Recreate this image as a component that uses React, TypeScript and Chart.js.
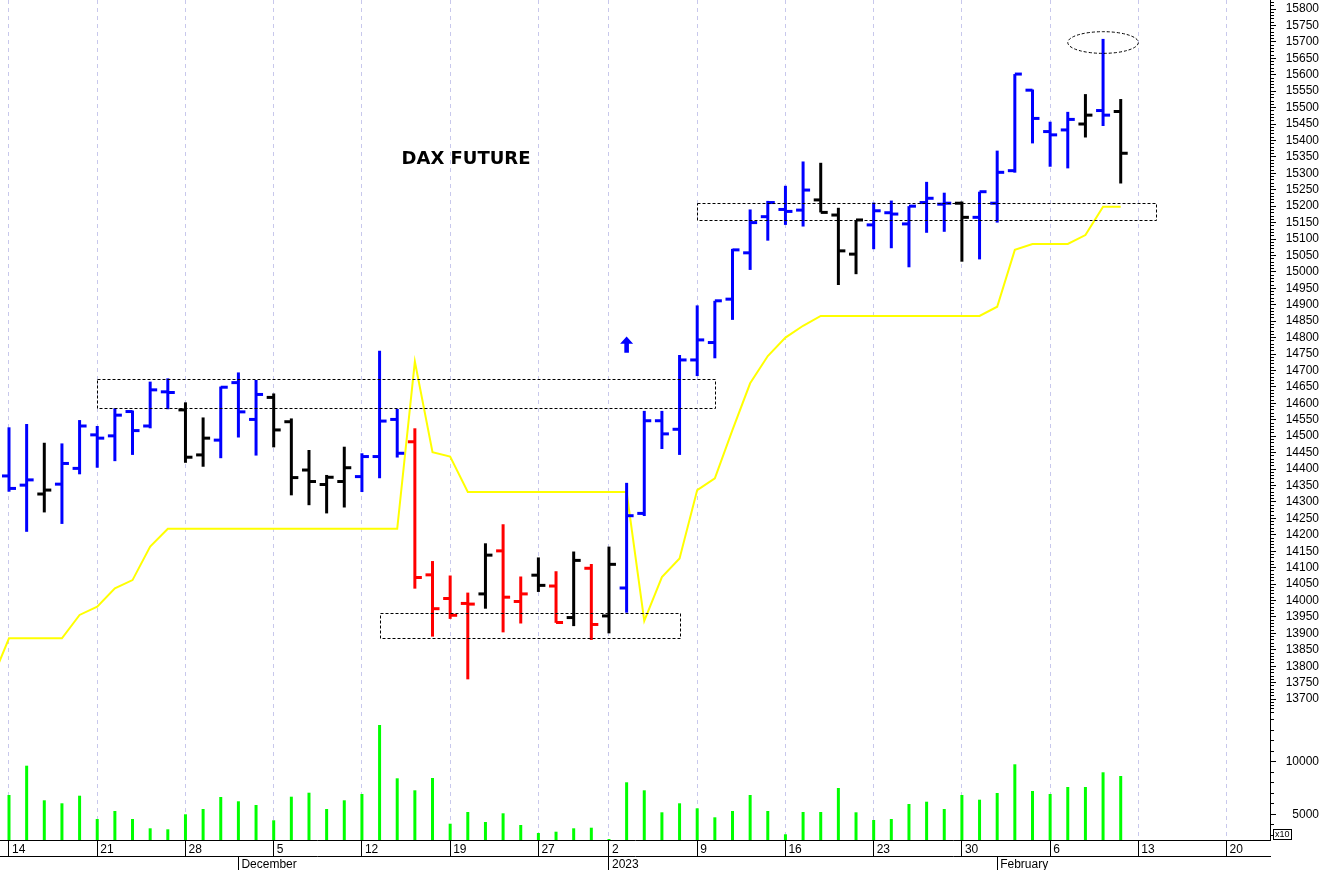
import React, { useEffect, useRef } from 'react';
import { Chart, registerables } from 'chart.js';

Chart.register(...registerables);

const FONT = "'Liberation Sans', Arial, sans-serif";

// Trading days (index 0 = 11 Nov 2022, mostly off-screen at the left edge)
const dates = [
  '2022-11-11',
  '2022-11-14', '2022-11-15', '2022-11-16', '2022-11-17', '2022-11-18',
  '2022-11-21', '2022-11-22', '2022-11-23', '2022-11-24', '2022-11-25',
  '2022-11-28', '2022-11-29', '2022-11-30', '2022-12-01', '2022-12-02',
  '2022-12-05', '2022-12-06', '2022-12-07', '2022-12-08', '2022-12-09',
  '2022-12-12', '2022-12-13', '2022-12-14', '2022-12-15', '2022-12-16',
  '2022-12-19', '2022-12-20', '2022-12-21', '2022-12-22', '2022-12-23',
  '2022-12-27', '2022-12-28', '2022-12-29', '2022-12-30',
  '2023-01-02', '2023-01-03', '2023-01-04', '2023-01-05', '2023-01-06',
  '2023-01-09', '2023-01-10', '2023-01-11', '2023-01-12', '2023-01-13',
  '2023-01-16', '2023-01-17', '2023-01-18', '2023-01-19', '2023-01-20',
  '2023-01-23', '2023-01-24', '2023-01-25', '2023-01-26', '2023-01-27',
  '2023-01-30', '2023-01-31', '2023-02-01', '2023-02-02', '2023-02-03',
  '2023-02-06', '2023-02-07', '2023-02-08', '2023-02-09', '2023-02-10',
];

const openPrices = [null,
  14379, 14351, 14324, 14354, 14402, 14504, 14501, 14575, 14531, 14635,
  14580, 14443, 14488, 14663, 14551, 14618, 14544, 14397, 14353, 14362,
  14377, 14438, 14551, 14483, 14078, 14006, 13991, 14020, 14151, 13997,
  14077, 14044, 13948, 14098, 13953, 14038, 14265, 14547, 14521, 14732,
  14785, 14917, 15058, 15168, 15190, 15188, 15219, 15173, 15054, 15143,
  15180, 15146, 15211, 15206, 15209, 15166, 15209, 15308, 15553, 15427,
  15432, 15450, 15491, 15488];

const highPrices = [null,
  14527, 14537, 14480, 14478, 14549, 14531, 14585, 14578, 14666, 14676,
  14603, 14557, 14651, 14694, 14671, 14630, 14554, 14458, 14382, 14468,
  14448, 14760, 14583, 14524, 14120, 14076, 14024, 14174, 14232, 14073,
  14131, 14089, 14149, 14111, 14164, 14358, 14577, 14577, 14747, 14898,
  14912, 15070, 15190, 15216, 15262, 15336, 15332, 15195, 15158, 15211,
  15217, 15200, 15274, 15241, 15214, 15244, 15369, 15602, 15555, 15457,
  15487, 15541, 15709, 15526];

const lowPrices = [null,
  14331, 14209, 14268, 14233, 14384, 14404, 14424, 14443, 14524, 14582,
  14419, 14407, 14433, 14496, 14441, 14466, 14320, 14290, 14265, 14283,
  14330, 14372, 14435, 14036, 13890, 13944, 13760, 13975, 13903, 13930,
  14026, 13932, 13922, 13880, 13900, 13963, 14257, 14461, 14443, 14683,
  14737, 14854, 15006, 15095, 15143, 15138, 15181, 14960, 14993, 15069,
  15072, 15014, 15119, 15122, 15031, 15038, 15150, 15302, 15391, 15320,
  15315, 15409, 15444, 15269];

const closePrices = [null,
  14341, 14367, 14336, 14417, 14531, 14494, 14564, 14517, 14641, 14633,
  14436, 14494, 14649, 14574, 14627, 14519, 14374, 14362, 14375, 14404,
  14438, 14546, 14448, 14070, 13975, 13955, 13989, 14138, 14010, 14020,
  14046, 13933, 14122, 13927, 14110, 14258, 14547, 14507, 14732, 14793,
  14912, 15067, 15150, 15211, 15184, 15249, 15181, 15064, 15158, 15186,
  15176, 15200, 15224, 15209, 15166, 15244, 15303, 15602, 15467, 15417,
  15464, 15477, 15477, 15361];

// B = blue, K = black, R = red
const barColorCodes = ['K',
  'B', 'B', 'K', 'B', 'B', 'B', 'B', 'B', 'B', 'B',
  'K', 'K', 'B', 'B', 'B', 'K', 'K', 'K', 'K', 'K',
  'B', 'B', 'B', 'R', 'R', 'R', 'R', 'K', 'R', 'R',
  'K', 'R', 'K', 'R', 'K', 'B', 'B', 'B', 'B', 'B',
  'B', 'B', 'B', 'B', 'B', 'B', 'K', 'K', 'K', 'B',
  'B', 'B', 'B', 'B', 'K', 'B', 'B', 'B', 'B', 'B',
  'B', 'K', 'B', 'K'];

const volumes = [null,
  6835, 9620, 6331, 6046, 6768, 4553, 5314, 4553, 3669, 3574,
  5000, 5504, 6645, 6236, 5884, 4430, 6673, 7053, 5504, 6331,
  6930, 13489, 8422, 7281, 8451, 4106, 5219, 4268, 5095, 3983,
  3222, 3346, 3669, 3726, 2650, 8042, 7281, 5190, 6046, 5570,
  4715, 5314, 6835, 5314, 3100, 5219, 5219, 7500, 5190, 4458,
  4553, 5979, 6198, 5504, 6835, 6388, 7025, 9753, 7215, 6930,
  7595, 7595, 8993, 8641];

const stopLine = [13754,
  13885, 13885, 13885, 13885, 13956, 13981, 14037, 14062, 14164, 14218,
  14218, 14218, 14218, 14218, 14218, 14218, 14218, 14218, 14218, 14218,
  14218, 14218, 14218, 14727, 14451, 14438, 14330, 14330, 14330, 14330,
  14330, 14330, 14330, 14330, 14330, 14330, 13938, 14071, 14128, 14336,
  14372, 14519, 14661, 14744, 14800, 14836, 14866, 14866, 14866, 14866,
  14866, 14866, 14866, 14866, 14866, 14866, 14894, 15067, 15085, 15085,
  15085, 15112, 15198, 15198];

// Axis ticks (positions are trading-day indices)
const weekTickPos = [1, 6, 11, 16, 21, 26, 31, 35, 40, 45, 50, 55, 60, 65, 70];
const weekTickLabels = ['14', '21', '28', '5', '12', '19', '27', '2', '9', '16', '23', '30', '6', '13', '20'];
const monthTickPos = [14, 35, 57];
const monthTickLabels = ['December', '2023', 'February'];
const xRange = [0.49, 72.46];
const priceRange = [13651.5, 15827.4];
const volumeRange = [2557, 14439];
const priceTickStep = 10;
const priceLabelStep = 50;
const volumeTickStep = 1000;
const volumeLabels = [5000, 10000];

// Annotations (data units)
const zoneStart = [6, 22, 40];
const zoneEnd = [41, 39, 66];
const zoneLow = [14585, 13885, 15157];
const zoneHigh = [14673, 13963, 15209];
const ellipseX = [61, 65];
const ellipseY = [15665, 15731];
const arrowX = 36;
const arrowY = [14803, 14781, 14754];
const titleText = 'DAX FUTURE';
const titleX = 26.9;
const titleY = 15342;

const colorMap: Record<string, string> = { B: '#0000ff', K: '#000000', R: '#ff0000' };

function rangeTicks(min: number, max: number, step: number) {
  const out: number[] = [];
  for (let v = Math.ceil(min / step) * step; v <= max; v += step) out.push(v);
  return out;
}

function noPadding(s: any) {
  s.paddingLeft = 0;
  s.paddingRight = 0;
  s.paddingTop = 0;
  s.paddingBottom = 0;
}

const overlayPlugin = {
  id: 'overlay',
  afterDatasetsDraw(chart: any) {
    const { ctx, chartArea: a, scales } = chart;
    const xs = scales.x;
    const ys = scales.y;
    ctx.save();
    ctx.beginPath();
    ctx.rect(a.left, a.top, a.right - a.left, a.bottom - a.top);
    ctx.clip();
    ctx.strokeStyle = '#000';
    ctx.lineWidth = 1;
    ctx.setLineDash([3, 2]);
    for (let k = 0; k < zoneStart.length; k++) {
      const x0 = Math.round(xs.getPixelForValue(zoneStart[k])) + 0.5;
      const x1 = Math.round(xs.getPixelForValue(zoneEnd[k])) + 0.5;
      const y0 = Math.round(ys.getPixelForValue(zoneHigh[k])) + 0.5;
      const y1 = Math.round(ys.getPixelForValue(zoneLow[k])) + 0.5;
      ctx.strokeRect(x0, y0, x1 - x0, y1 - y0);
    }
    const ex0 = xs.getPixelForValue(ellipseX[0]);
    const ex1 = xs.getPixelForValue(ellipseX[1]);
    const ey0 = ys.getPixelForValue(ellipseY[1]);
    const ey1 = ys.getPixelForValue(ellipseY[0]);
    ctx.beginPath();
    ctx.ellipse((ex0 + ex1) / 2, (ey0 + ey1) / 2, (ex1 - ex0) / 2, (ey1 - ey0) / 2, 0, 0, Math.PI * 2);
    ctx.stroke();
    ctx.setLineDash([]);
    // arrow
    const ax = xs.getPixelForValue(arrowX);
    const tipY = ys.getPixelForValue(arrowY[0]);
    const neckY = ys.getPixelForValue(arrowY[1]);
    const tailY = ys.getPixelForValue(arrowY[2]);
    ctx.fillStyle = '#0000ff';
    ctx.beginPath();
    ctx.moveTo(ax, tipY);
    ctx.lineTo(ax + 6.5, neckY);
    ctx.lineTo(ax + 2.3, neckY);
    ctx.lineTo(ax + 2.3, tailY);
    ctx.lineTo(ax - 2.3, tailY);
    ctx.lineTo(ax - 2.3, neckY);
    ctx.lineTo(ax - 6.5, neckY);
    ctx.closePath();
    ctx.fill();
    // title
    ctx.fillStyle = '#000';
    ctx.font = "bold 18px 'DejaVu Sans'";
    ctx.textAlign = 'center';
    ctx.textBaseline = 'middle';
    ctx.fillText(titleText, xs.getPixelForValue(titleX), ys.getPixelForValue(titleY));
    ctx.restore();
    // x10 box on the volume axis
    const v = scales.yv;
    ctx.save();
    ctx.strokeStyle = '#000';
    ctx.lineWidth = 1;
    ctx.strokeRect(Math.round(v.left) + 3.5, Math.round(v.bottom) - 10.5, 18, 10);
    ctx.fillStyle = '#000';
    ctx.font = "9px 'Liberation Sans'";
    ctx.textAlign = 'left';
    ctx.textBaseline = 'middle';
    ctx.fillText('x10', Math.round(v.left) + 5, Math.round(v.bottom) - 5);
    ctx.restore();
  },
};

export default function App() {
  const ref = useRef<HTMLCanvasElement>(null);

  useEffect(() => {
    const idx = dates.map((_, i) => i);
    const barIdx = idx.filter((i) => highPrices[i] != null);
    const colorsFor = (list: number[]) => list.map((i) => colorMap[barColorCodes[i]]);

    const priceTicks = rangeTicks(priceRange[0], priceRange[1], priceTickStep);
    const volTicks = rangeTicks(volumeRange[0], volumeRange[1], volumeTickStep);

    const minorDash = (c: any) => {
      const t = c && c.tick;
      if (!t) return [];
      const v = t.value;
      const major = c.scale && c.scale.id === 'yv' ? volumeLabels.includes(v) : v % priceLabelStep === 0;
      return major ? [] : [3, 30];
    };

    const chart = new Chart(ref.current as HTMLCanvasElement, {
      type: 'bar',
      data: {
        datasets: [
          {
            type: 'line',
            data: idx.map((i) => ({ x: i, y: stopLine[i] })),
            borderColor: '#ffff00',
            borderWidth: 2,
            pointRadius: 0,
            tension: 0,
            xAxisID: 'x',
            yAxisID: 'y',
            order: 10,
          } as any,
          {
            type: 'bar',
            data: barIdx.filter((i) => volumes[i] != null).map((i) => ({ x: i, y: volumes[i] })),
            backgroundColor: '#00ff00',
            borderWidth: 0,
            grouped: false,
            maxBarThickness: 3,
            xAxisID: 'x',
            yAxisID: 'yv',
            order: 9,
          } as any,
          {
            type: 'bar',
            data: barIdx.map((i) => ({ x: i, y: [lowPrices[i], highPrices[i]] })),
            backgroundColor: colorsFor(barIdx),
            borderWidth: 0,
            grouped: false,
            maxBarThickness: 3,
            xAxisID: 'x',
            yAxisID: 'y',
            order: 5,
          } as any,
          {
            type: 'scatter',
            data: barIdx.map((i) => ({ x: i, y: openPrices[i] })),
            pointStyle: 'dash',
            pointRadius: 7,
            pointBorderWidth: 3,
            pointRotation: 180,
            pointBorderColor: colorsFor(barIdx),
            pointBackgroundColor: 'rgba(0,0,0,0)',
            xAxisID: 'x',
            yAxisID: 'y',
            order: 2,
          } as any,
          {
            type: 'scatter',
            data: barIdx.map((i) => ({ x: i, y: closePrices[i] })),
            pointStyle: 'dash',
            pointRadius: 7,
            pointBorderWidth: 3,
            pointRotation: 0,
            pointBorderColor: colorsFor(barIdx),
            pointBackgroundColor: 'rgba(0,0,0,0)',
            xAxisID: 'x',
            yAxisID: 'y',
            order: 1,
          } as any,
        ],
      },
      options: {
        animation: false,
        responsive: true,
        maintainAspectRatio: false,
        events: [],
        layout: { padding: 0, autoPadding: false },
        plugins: {
          legend: { display: false },
          tooltip: { enabled: false },
          title: { display: false },
        },
        scales: {
          x: {
            type: 'linear',
            position: 'bottom',
            min: xRange[0],
            max: xRange[1],
            offset: false,
            afterBuildTicks: (s: any) => {
              s.ticks = weekTickPos.map((v) => ({ value: v }));
            },
            afterFit: (s: any) => {
              s.height = 16;
              noPadding(s);
            },
            ticks: {
              autoSkip: false,
              maxRotation: 0,
              minRotation: 0,
              align: 'start',
              labelOffset: 3,
              padding: -14,
              color: '#000',
              font: { family: FONT, size: 12 },
              callback: (v: any) => {
                const k = weekTickPos.indexOf(Number(v));
                return k >= 0 ? weekTickLabels[k] : '';
              },
            },
            grid: {
              offset: false,
              color: '#c8c8ec',
              lineWidth: 1,
              drawTicks: true,
              tickLength: 16,
              tickColor: '#000',
              tickBorderDash: [],
            },
            border: { display: true, color: '#000', dash: [4, 4] },
          },
          x2: {
            type: 'linear',
            position: 'bottom',
            min: xRange[0],
            max: xRange[1],
            offset: false,
            afterBuildTicks: (s: any) => {
              s.ticks = monthTickPos.map((v) => ({ value: v }));
            },
            afterFit: (s: any) => {
              s.height = 14;
              noPadding(s);
            },
            ticks: {
              autoSkip: false,
              maxRotation: 0,
              minRotation: 0,
              align: 'start',
              labelOffset: 3,
              padding: -13,
              color: '#000',
              font: { family: FONT, size: 12 },
              callback: (v: any) => {
                const k = monthTickPos.indexOf(Number(v));
                return k >= 0 ? monthTickLabels[k] : '';
              },
            },
            grid: {
              offset: false,
              drawOnChartArea: false,
              drawTicks: true,
              tickLength: 14,
              tickColor: '#000',
            },
            border: { display: true, color: '#000' },
          },
          y: {
            type: 'linear',
            position: 'right',
            stack: 'right',
            stackWeight: 715,
            min: priceRange[0],
            max: priceRange[1],
            afterBuildTicks: (s: any) => {
              s.ticks = priceTicks.map((v) => ({ value: v }));
            },
            afterFit: (s: any) => {
              s.width = 49;
              noPadding(s);
            },
            ticks: {
              autoSkip: false,
              crossAlign: 'far',
              padding: 7,
              color: '#000',
              font: { family: FONT, size: 12 },
              callback: (v: any) => (Number(v) % priceLabelStep === 0 ? String(v) : ''),
            },
            grid: {
              drawOnChartArea: false,
              drawTicks: true,
              tickLength: 6,
              tickColor: '#000',
              tickBorderDash: minorDash,
            },
            border: { display: true, color: '#000' },
          },
          yv: {
            type: 'linear',
            position: 'right',
            stack: 'right',
            stackWeight: 125,
            min: volumeRange[0],
            max: volumeRange[1],
            afterBuildTicks: (s: any) => {
              s.ticks = volTicks.map((v) => ({ value: v }));
            },
            afterFit: (s: any) => {
              s.width = 49;
              noPadding(s);
            },
            ticks: {
              autoSkip: false,
              crossAlign: 'far',
              padding: 7,
              color: '#000',
              font: { family: FONT, size: 12 },
              callback: (v: any) => (volumeLabels.includes(Number(v)) ? String(v) : ''),
            },
            grid: {
              drawOnChartArea: false,
              drawTicks: true,
              tickLength: 6,
              tickColor: '#000',
              tickBorderDash: minorDash,
            },
            border: { display: true, color: '#000' },
          },
        },
      } as any,
      plugins: [overlayPlugin],
    });
    return () => chart.destroy();
  }, []);

  return (
    <div style={{ position: 'fixed', left: 0, top: 0, width: 1319, height: 870, background: '#fff' }}>
      <canvas ref={ref} />
    </div>
  );
}
